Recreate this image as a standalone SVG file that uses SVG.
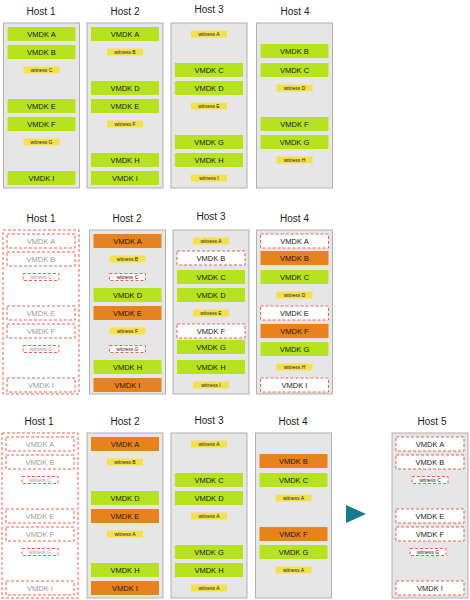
<svg xmlns="http://www.w3.org/2000/svg" width="470" height="600" viewBox="0 0 470 600">
<style>
.bg{fill:#ffffff}
.c{fill:#e6e6e6;stroke:#b0b0b0;stroke-width:1}
.cd{fill:#ffffff;stroke:#ef6451;stroke-width:1;stroke-dasharray:3 2}
.v{fill:#b7e21f}
.o{fill:#e8821c}
.w{fill:#f4e04d}
.d{fill:#ffffff;stroke:#ef6451;stroke-width:1;stroke-dasharray:3 2}
text{font-family:"Liberation Sans",Arial,Helvetica,sans-serif;text-anchor:middle;fill:#1a1a1a}
.t{font-size:7.5px}
.wt{font-size:5px}
.g{fill:#9a9a9a}
.h{font-size:10px;fill:#222}
.arrow{fill:#167b8c}
</style>
<rect class="bg" x="0" y="0" width="470" height="600"/>

<!-- ROW 1 -->
<text class="h" x="41" y="15">Host 1</text>
<g id="r1-host1" transform="translate(3.5,23)">
<rect class="c" x="0" y="0" width="76" height="165"/>
<rect class="v" x="4" y="4" width="68" height="14"/><text class="t" x="38" y="13.8">VMDK A</text>
<rect class="v" x="4" y="22" width="68" height="14"/><text class="t" x="38" y="31.8">VMDK B</text>
<rect class="w" x="20" y="43.5" width="36" height="7"/><text class="wt" x="38" y="49">witness C</text>
<rect class="v" x="4" y="76" width="68" height="14"/><text class="t" x="38" y="85.8">VMDK E</text>
<rect class="v" x="4" y="94" width="68" height="14"/><text class="t" x="38" y="103.8">VMDK F</text>
<rect class="w" x="20" y="115.5" width="36" height="7"/><text class="wt" x="38" y="121">witness G</text>
<rect class="v" x="4" y="148" width="68" height="14"/><text class="t" x="38" y="157.8">VMDK I</text>
</g>

<text class="h" x="125" y="15">Host 2</text>
<g id="r1-host2" transform="translate(87,23)">
<rect class="c" x="0" y="0" width="76" height="165"/>
<rect class="v" x="4" y="4" width="68" height="14"/><text class="t" x="38" y="13.8">VMDK A</text>
<rect class="w" x="20" y="25.5" width="36" height="7"/><text class="wt" x="38" y="31">witness B</text>
<rect class="v" x="4" y="58" width="68" height="14"/><text class="t" x="38" y="67.8">VMDK D</text>
<rect class="v" x="4" y="76" width="68" height="14"/><text class="t" x="38" y="85.8">VMDK E</text>
<rect class="w" x="20" y="97.5" width="36" height="7"/><text class="wt" x="38" y="103">witness F</text>
<rect class="v" x="4" y="130" width="68" height="14"/><text class="t" x="38" y="139.8">VMDK H</text>
<rect class="v" x="4" y="148" width="68" height="14"/><text class="t" x="38" y="157.8">VMDK I</text>
</g>

<text class="h" x="209" y="13">Host 3</text>
<g id="r1-host3" transform="translate(171,23)">
<rect class="c" x="0" y="0" width="76" height="165"/>
<rect class="w" x="20" y="7.5" width="36" height="7"/><text class="wt" x="38" y="13">witness A</text>
<rect class="v" x="4" y="40" width="68" height="14"/><text class="t" x="38" y="49.8">VMDK C</text>
<rect class="v" x="4" y="58" width="68" height="14"/><text class="t" x="38" y="67.8">VMDK D</text>
<rect class="w" x="20" y="79.5" width="36" height="7"/><text class="wt" x="38" y="85">witness E</text>
<rect class="v" x="4" y="112" width="68" height="14"/><text class="t" x="38" y="121.8">VMDK G</text>
<rect class="v" x="4" y="130" width="68" height="14"/><text class="t" x="38" y="139.8">VMDK H</text>
<rect class="w" x="20" y="151.5" width="36" height="7"/><text class="wt" x="38" y="157">witness I</text>
</g>

<text class="h" x="295" y="15">Host 4</text>
<g id="r1-host4" transform="translate(256.5,23)">
<rect class="c" x="0" y="0" width="76" height="165"/>
<rect class="v" x="4" y="21" width="68" height="14"/><text class="t" x="38" y="30.8">VMDK B</text>
<rect class="v" x="4" y="40" width="68" height="14"/><text class="t" x="38" y="49.8">VMDK C</text>
<rect class="w" x="20" y="61.5" width="36" height="7"/><text class="wt" x="38" y="67">witness D</text>
<rect class="v" x="4" y="94" width="68" height="14"/><text class="t" x="38" y="103.8">VMDK F</text>
<rect class="v" x="4" y="112" width="68" height="14"/><text class="t" x="38" y="121.8">VMDK G</text>
<rect class="w" x="20" y="133.5" width="36" height="7"/><text class="wt" x="38" y="139">witness H</text>
</g>

<!-- ROW 2 -->
<text class="h" x="41" y="222">Host 1</text>
<g id="r2-host1" transform="translate(3,230)">
<rect class="cd" x="0" y="0" width="76" height="164"/>
<rect class="d" x="4" y="4" width="68" height="14"/><text class="t g" x="38" y="13.8">VMDK A</text>
<rect class="d" x="4" y="22" width="68" height="14"/><text class="t g" x="38" y="31.8">VMDK B</text>
<rect class="d" x="20" y="43.5" width="36" height="7"/><text class="wt g" x="38" y="49">witness C</text>
<rect class="d" x="4" y="76" width="68" height="14"/><text class="t g" x="38" y="85.8">VMDK E</text>
<rect class="d" x="4" y="94" width="68" height="14"/><text class="t g" x="38" y="103.8">VMDK F</text>
<rect class="d" x="20" y="115.5" width="36" height="7"/><text class="wt g" x="38" y="121">witness G</text>
<rect class="d" x="4" y="148" width="68" height="14"/><text class="t g" x="38" y="157.8">VMDK I</text>
</g>

<text class="h" x="127" y="222">Host 2</text>
<g id="r2-host2" transform="translate(89.5,230)">
<rect class="c" x="0" y="0" width="76" height="164"/>
<rect class="o" x="4" y="4" width="68" height="14"/><text class="t" x="38" y="13.8">VMDK A</text>
<rect class="w" x="20" y="25.5" width="36" height="7"/><text class="wt" x="38" y="31">witness B</text>
<rect class="d" x="20" y="43.5" width="36" height="7"/><text class="wt" x="38" y="49">witness C</text>
<rect class="v" x="4" y="58" width="68" height="14"/><text class="t" x="38" y="67.8">VMDK D</text>
<rect class="o" x="4" y="76" width="68" height="14"/><text class="t" x="38" y="85.8">VMDK E</text>
<rect class="w" x="20" y="97.5" width="36" height="7"/><text class="wt" x="38" y="103">witness F</text>
<rect class="d" x="20" y="115.5" width="36" height="7"/><text class="wt" x="38" y="121">witness G</text>
<rect class="v" x="4" y="130" width="68" height="14"/><text class="t" x="38" y="139.8">VMDK H</text>
<rect class="o" x="4" y="148" width="68" height="14"/><text class="t" x="38" y="157.8">VMDK I</text>
</g>

<text class="h" x="211" y="220">Host 3</text>
<g id="r2-host3" transform="translate(173,230)">
<rect class="c" x="0" y="0" width="76" height="164"/>
<rect class="w" x="20" y="7.5" width="36" height="7"/><text class="wt" x="38" y="13">witness A</text>
<rect class="d" x="4" y="21" width="68" height="14"/><text class="t" x="38" y="30.8">VMDK B</text>
<rect class="v" x="4" y="40" width="68" height="14"/><text class="t" x="38" y="49.8">VMDK C</text>
<rect class="v" x="4" y="58" width="68" height="14"/><text class="t" x="38" y="67.8">VMDK D</text>
<rect class="w" x="20" y="79.5" width="36" height="7"/><text class="wt" x="38" y="85">witness E</text>
<rect class="d" x="4" y="94" width="68" height="14"/><text class="t" x="38" y="103.8">VMDK F</text>
<rect class="v" x="4" y="110" width="68" height="14"/><text class="t" x="38" y="119.8">VMDK G</text>
<rect class="v" x="4" y="130" width="68" height="14"/><text class="t" x="38" y="139.8">VMDK H</text>
<rect class="w" x="20" y="151.5" width="36" height="7"/><text class="wt" x="38" y="157">witness I</text>
</g>

<text class="h" x="294.5" y="222">Host 4</text>
<g id="r2-host4" transform="translate(256.5,230)">
<rect class="c" x="0" y="0" width="76" height="164"/>
<rect class="d" x="4" y="4" width="68" height="14"/><text class="t" x="38" y="13.8">VMDK A</text>
<rect class="o" x="4" y="21" width="68" height="14"/><text class="t" x="38" y="30.8">VMDK B</text>
<rect class="v" x="4" y="40" width="68" height="14"/><text class="t" x="38" y="49.8">VMDK C</text>
<rect class="w" x="20" y="61.5" width="36" height="7"/><text class="wt" x="38" y="67">witness D</text>
<rect class="d" x="4" y="76" width="68" height="14"/><text class="t" x="38" y="85.8">VMDK E</text>
<rect class="o" x="4" y="94" width="68" height="14"/><text class="t" x="38" y="103.8">VMDK F</text>
<rect class="v" x="4" y="112" width="68" height="14"/><text class="t" x="38" y="121.8">VMDK G</text>
<rect class="w" x="20" y="133.5" width="36" height="7"/><text class="wt" x="38" y="139">witness H</text>
<rect class="d" x="4" y="148" width="68" height="14"/><text class="t" x="38" y="157.8">VMDK I</text>
</g>

<!-- ROW 3 -->
<text class="h" x="39" y="425">Host 1</text>
<g id="r3-host1" transform="translate(2,433)">
<rect class="cd" x="0" y="0" width="76" height="165"/>
<rect class="d" x="4" y="4" width="68" height="14"/><text class="t g" x="38" y="13.8">VMDK A</text>
<rect class="d" x="4" y="22" width="68" height="14"/><text class="t g" x="38" y="31.8">VMDK B</text>
<rect class="d" x="20" y="43.5" width="36" height="7"/><text class="wt g" x="38" y="49">witness C</text>
<rect class="d" x="4" y="76" width="68" height="14"/><text class="t g" x="38" y="85.8">VMDK E</text>
<rect class="d" x="4" y="94" width="68" height="14"/><text class="t g" x="38" y="103.8">VMDK F</text>
<rect class="d" x="20" y="115.5" width="36" height="7"/><text class="wt g" x="38" y="121">witness G</text>
<rect class="d" x="4" y="148" width="68" height="14"/><text class="t g" x="38" y="157.8">VMDK I</text>
</g>

<text class="h" x="125" y="425">Host 2</text>
<g id="r3-host2" transform="translate(87,433)">
<rect class="c" x="0" y="0" width="76" height="165"/>
<rect class="o" x="4" y="4" width="68" height="14"/><text class="t" x="38" y="13.8">VMDK A</text>
<rect class="w" x="20" y="25.5" width="36" height="7"/><text class="wt" x="38" y="31">witness B</text>
<rect class="v" x="4" y="58" width="68" height="14"/><text class="t" x="38" y="67.8">VMDK D</text>
<rect class="o" x="4" y="76" width="68" height="14"/><text class="t" x="38" y="85.8">VMDK E</text>
<rect class="w" x="20" y="97.5" width="36" height="7"/><text class="wt" x="38" y="103">witness A</text>
<rect class="v" x="4" y="130" width="68" height="14"/><text class="t" x="38" y="139.8">VMDK H</text>
<rect class="o" x="4" y="148" width="68" height="14"/><text class="t" x="38" y="157.8">VMDK I</text>
</g>

<text class="h" x="209" y="424">Host 3</text>
<g id="r3-host3" transform="translate(171,433)">
<rect class="c" x="0" y="0" width="76" height="165"/>
<rect class="w" x="20" y="7.5" width="36" height="7"/><text class="wt" x="38" y="13">witness A</text>
<rect class="v" x="4" y="40" width="68" height="14"/><text class="t" x="38" y="49.8">VMDK C</text>
<rect class="v" x="4" y="58" width="68" height="14"/><text class="t" x="38" y="67.8">VMDK D</text>
<rect class="w" x="20" y="79.5" width="36" height="7"/><text class="wt" x="38" y="85">witness A</text>
<rect class="v" x="4" y="112" width="68" height="14"/><text class="t" x="38" y="121.8">VMDK G</text>
<rect class="v" x="4" y="130" width="68" height="14"/><text class="t" x="38" y="139.8">VMDK H</text>
<rect class="w" x="20" y="151.5" width="36" height="7"/><text class="wt" x="38" y="157">witness A</text>
</g>

<text class="h" x="293" y="425">Host 4</text>
<g id="r3-host4" transform="translate(255.5,433)">
<rect class="c" x="0" y="0" width="76" height="165"/>
<rect class="o" x="4" y="21" width="68" height="14"/><text class="t" x="38" y="30.8">VMDK B</text>
<rect class="v" x="4" y="40" width="68" height="14"/><text class="t" x="38" y="49.8">VMDK C</text>
<rect class="w" x="20" y="61.5" width="36" height="7"/><text class="wt" x="38" y="67">witness A</text>
<rect class="o" x="4" y="94" width="68" height="14"/><text class="t" x="38" y="103.8">VMDK F</text>
<rect class="v" x="4" y="112" width="68" height="14"/><text class="t" x="38" y="121.8">VMDK G</text>
<rect class="w" x="20" y="133.5" width="36" height="7"/><text class="wt" x="38" y="139">witness A</text>
</g>

<text class="h" x="432" y="425">Host 5</text>
<g id="r3-host5" transform="translate(392,433)">
<rect class="c" x="0" y="0" width="76" height="165"/>
<rect class="d" x="4" y="4" width="68" height="14"/><text class="t" x="38" y="13.8">VMDK A</text>
<rect class="d" x="4" y="22" width="68" height="14"/><text class="t" x="38" y="31.8">VMDK B</text>
<rect class="d" x="20" y="43.5" width="36" height="7"/><text class="wt" x="38" y="49">witness C</text>
<rect class="d" x="4" y="76" width="68" height="14"/><text class="t" x="38" y="85.8">VMDK E</text>
<rect class="d" x="4" y="94" width="68" height="14"/><text class="t" x="38" y="103.8">VMDK F</text>
<rect class="d" x="18" y="115.5" width="36" height="7"/><text class="wt" x="36" y="121">witness G</text>
<rect class="d" x="4" y="148" width="68" height="14"/><text class="t" x="38" y="157.8">VMDK I</text>
</g>

<g id="connectors">
<polygon class="arrow" points="346,505 366,514 346,523"/>
</g>
</svg>
